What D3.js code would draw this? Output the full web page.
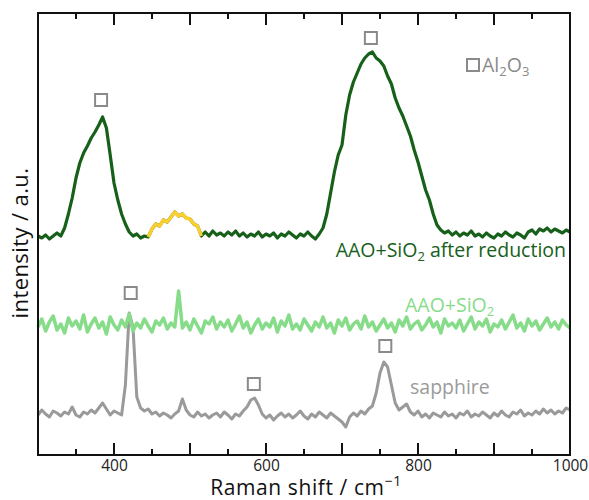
<!DOCTYPE html>
<html>
<head>
<meta charset="utf-8">
<script src="https://cdn.jsdelivr.net/npm/d3@7"></script>
<style>
  body { margin: 0; background: #fff; }
  svg { font-family: "Open Sans", "Noto Sans", sans-serif; }
</style>
</head>
<body>
<div id="chart"></div>
<script>
// raman shift grid (cm^-1)
const ramanShift = [
  300,305,310,315,320,325,330,335,340,345,350,355,360,365,370,375,380,385,390,395,
  400,405,410,415,420,425,430,435,440,445,450,455,460,465,470,475,480,485,490,495,
  500,505,510,515,520,525,530,535,540,545,550,555,560,565,570,575,580,585,590,595,
  600,605,610,615,620,625,630,635,640,645,650,655,660,665,670,675,680,685,690,695,
  700,705,710,715,720,725,730,735,740,745,750,755,760,765,770,775,780,785,790,795,
  800,805,810,815,820,825,830,835,840,845,850,855,860,865,870,875,880,885,890,895,
  900,905,910,915,920,925,930,935,940,945,950,955,960,965,970,975,980,985,990,995,
  1000
];

// AAO+SiO2 after reduction (offset intensity, a.u.)
const afterReduction = [
  219,217,220,216,219,222,219,227,241,257,277,292,302,309,317,323,330,338,327,300,
  272,255,241,231,223,219,221,217,219,218,226,231,229,235,233,238,243,239,241,237,
  236,231,229,219,223,219,224,220,222,219,223,220,224,219,222,218,221,219,223,218,
  221,219,222,217,221,219,223,220,217,221,219,223,219,216,221,227,241,262,283,300,
  310,340,360,373,382,391,397,401,403,397,394,389,379,371,357,347,339,329,319,305,
  293,279,265,255,241,230,225,222,224,220,223,219,222,220,224,219,221,218,222,219,
  217,221,219,223,220,218,222,220,217,223,225,221,226,224,227,223,226,224,222,225,
  223
];
// highlighted (yellow) window of the reduced sample
const highlightRange = [445, 515];

// AAO+SiO2
const aaoSiO2 = [
  128,136,124,133,139,125,131,122,137,129,134,126,140,123,131,137,127,133,121,138,
  130,125,135,128,141,124,132,127,136,129,123,134,130,137,126,132,128,164,127,133,
  125,136,129,122,134,131,138,126,133,128,135,124,131,139,127,133,122,130,136,126,
  132,128,137,123,134,129,140,126,131,125,136,130,124,133,128,138,127,132,122,135,
  129,137,125,131,134,126,139,128,133,124,130,136,127,132,123,135,129,138,126,131,
  134,125,130,137,128,133,122,136,129,132,127,135,124,131,138,126,133,129,136,123,
  131,128,135,126,133,140,127,132,124,136,129,134,125,131,137,128,133,126,135,130,
  127
];

// sapphire
const sapphire = [
  40,45,41,38,44,42,39,43,41,48,40,38,43,41,45,42,47,52,46,40,
  44,42,40,70,142,128,58,47,44,46,41,43,39,42,40,37,41,44,56,45,
  40,38,43,39,41,37,40,42,38,43,40,36,41,39,44,48,55,57,50,41,
  37,40,35,39,42,38,41,37,40,44,39,36,41,38,43,40,37,42,39,36,
  33,28,38,42,39,44,41,46,49,62,82,93,88,70,52,45,48,51,43,40,
  44,38,41,37,42,40,38,43,39,41,37,42,40,44,38,41,39,43,40,37,
  42,39,44,40,38,43,41,45,39,42,40,44,41,46,42,45,41,44,42,47,
  45
];

// Al2O3 markers [shift, intensity]
const al2o3Shift = [383, 738, 422, 584, 757];
const al2o3Level = [355, 417, 162, 71, 109];

const majorTicks = [400, 500, 600, 700, 800, 900];
const minorTicks = [350, 450, 550, 650, 750, 850, 950];
const tickLabels = [400, 600, 800, 1000];

const width = 589, height = 500;
const margin = {top: 13, right: 19, bottom: 45, left: 38};
const innerW = width - margin.left - margin.right;
const innerH = height - margin.top - margin.bottom;

const colDark = "#16601a", colYellow = "#fbcf2e", colLight = "#86dc88", colGray = "#9a9a9a", colMark = "#8a8a8a";

const svg = d3.select("#chart").append("svg")
  .attr("width", width)
  .attr("height", height);

const g = svg.append("g").attr("transform", `translate(${margin.left},${margin.top})`);

const x = d3.scaleLinear().domain([300, 1000]).range([0, innerW]);
const y = d3.scaleLinear().domain([0, innerH]).range([innerH, 0]);

const line = d3.line()
  .x(d => x(d[0]))
  .y(d => y(d[1]));

function series(values) {
  return ramanShift.map((s, i) => [s, values[i]]);
}

const plot = g.append("g");

// sapphire
plot.append("path")
  .datum(series(sapphire))
  .attr("d", line)
  .attr("fill", "none")
  .attr("stroke", colGray)
  .attr("stroke-width", 3)
  .attr("stroke-linejoin", "round");

// AAO+SiO2
plot.append("path")
  .datum(series(aaoSiO2))
  .attr("d", line)
  .attr("fill", "none")
  .attr("stroke", colLight)
  .attr("stroke-width", 3.5)
  .attr("stroke-linejoin", "round");

// after reduction
const red = series(afterReduction);
plot.append("path")
  .datum(red)
  .attr("d", line)
  .attr("fill", "none")
  .attr("stroke", colDark)
  .attr("stroke-width", 3.2)
  .attr("stroke-linejoin", "round");

plot.append("path")
  .datum(red.filter(d => d[0] >= highlightRange[0] && d[0] <= highlightRange[1]))
  .attr("d", line)
  .attr("fill", "none")
  .attr("stroke", colYellow)
  .attr("stroke-width", 3.4)
  .attr("stroke-linejoin", "round");

// Al2O3 squares
const sq = 12;
plot.selectAll("rect.mark")
  .data(al2o3Shift.map((s, i) => [s, al2o3Level[i]]))
  .join("rect")
  .attr("class", "mark")
  .attr("x", d => x(d[0]) - sq / 2)
  .attr("y", d => y(d[1]) - sq / 2)
  .attr("width", sq)
  .attr("height", sq)
  .attr("fill", "none")
  .attr("stroke", colMark)
  .attr("stroke-width", 2);

// legend
g.append("rect")
  .attr("x", 429).attr("y", 46)
  .attr("width", sq).attr("height", sq)
  .attr("fill", "none").attr("stroke", colMark).attr("stroke-width", 2);
const leg = g.append("text")
  .attr("x", 444).attr("y", 59)
  .attr("font-size", 19.5)
  .attr("fill", colMark);
leg.append("tspan").text("Al");
leg.append("tspan").attr("font-size", 13).attr("dy", 4).text("2");
leg.append("tspan").attr("dy", -4).text("O");
leg.append("tspan").attr("font-size", 13).attr("dy", 4).text("3");

// series labels
function label(parts, xPos, yPos, col, anchor) {
  const t = g.append("text")
    .attr("x", xPos).attr("y", yPos)
    .attr("font-size", 19.5)
    .attr("fill", col)
    .attr("text-anchor", anchor);
  parts.forEach(p => {
    if (p.sub) {
      t.append("tspan").attr("font-size", 13).attr("dy", 4).text(p.s);
    } else {
      t.append("tspan").attr("dy", p.back ? -4 : 0).text(p.s);
    }
  });
  return t;
}
label([{s: "AAO+SiO"}, {s: "2", sub: true}, {s: " after reduction", back: true}], 528, 244, colDark, "end");
label([{s: "AAO+SiO"}, {s: "2", sub: true}], 367, 299, colLight, "start");
label([{s: "sapphire"}], 372, 381, colGray, "start");

// axes: inward major & minor ticks top and bottom
const xBottom = d3.axisBottom(x)
  .tickValues(tickLabels)
  .tickSize(0)
  .tickPadding(5)
  .tickFormat(d3.format("d"));

g.append("g")
  .attr("transform", `translate(0,${innerH})`)
  .call(xBottom)
  .call(a => a.select(".domain").remove())
  .selectAll("text")
  .attr("font-size", 15.5)
  .attr("font-family", "Open Sans, Noto Sans, sans-serif")
  .attr("fill", "#222");

[[0, 1], [innerH, -1]].forEach(([yy, dir]) => {
  g.append("g").selectAll("line.maj")
    .data(majorTicks).join("line")
    .attr("x1", d => x(d)).attr("x2", d => x(d))
    .attr("y1", yy).attr("y2", yy + dir * 12)
    .attr("stroke", "#111").attr("stroke-width", 2);
  g.append("g").selectAll("line.min")
    .data(minorTicks).join("line")
    .attr("x1", d => x(d)).attr("x2", d => x(d))
    .attr("y1", yy).attr("y2", yy + dir * 6)
    .attr("stroke", "#111").attr("stroke-width", 2);
});

// frame
g.append("rect")
  .attr("width", innerW).attr("height", innerH)
  .attr("fill", "none").attr("stroke", "#111").attr("stroke-width", 2);

// axis titles
const xt = svg.append("text")
  .attr("x", 306).attr("y", 495)
  .attr("text-anchor", "middle")
  .attr("font-size", 21)
  .attr("letter-spacing", 0.6)
  .attr("fill", "#111");
xt.append("tspan").text("Raman shift / cm");
xt.append("tspan").attr("font-size", 14).attr("dy", -9).text("\u22121");

svg.append("text")
  .attr("transform", `translate(28,243) rotate(-90)`)
  .attr("text-anchor", "middle")
  .attr("font-size", 22)
  .attr("letter-spacing", 0.4)
  .attr("fill", "#111")
  .text("intensity / a.u.");
</script>
</body>
</html>
